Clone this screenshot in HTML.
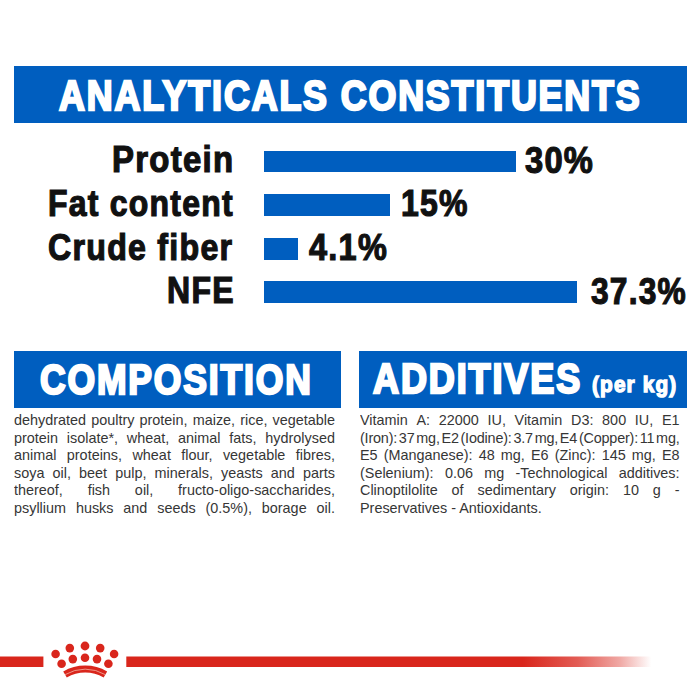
<!DOCTYPE html>
<html><head><meta charset="utf-8"><style>
html,body{margin:0;padding:0;background:#fff;width:700px;height:700px;overflow:hidden;position:relative}
.t{position:absolute;white-space:nowrap;font-family:"Liberation Sans",sans-serif;transform-origin:0 0}
.box{position:absolute;background:#005ebf}
.bar{position:absolute;background:#005ebf}
.body{position:absolute;font-family:"Liberation Sans",sans-serif;color:#363636;transform-origin:0 0}
.ln{white-space:nowrap}
.ln.j{display:flex;justify-content:space-between}
.ln span{white-space:nowrap}
</style></head><body>
<div class="box" style="left:13.5px;top:66px;width:673.5px;height:56.5px"></div>
<div class="box" style="left:13.5px;top:351px;width:327.7px;height:56.5px"></div>
<div class="box" style="left:358.8px;top:351px;width:327.8px;height:56.5px"></div>
<div class="bar" style="left:264px;top:150.5px;width:251.70000000000005px;height:21.900000000000006px"></div>
<div class="bar" style="left:264px;top:194.2px;width:125.60000000000002px;height:22.0px"></div>
<div class="bar" style="left:264px;top:237.8px;width:33.69999999999999px;height:22.0px"></div>
<div class="bar" style="left:264px;top:281.4px;width:312.6px;height:22.0px"></div>
<div class="t" id="title" style="left:58.66px;top:74.57px;font-size:41.6px;line-height:41.6px;font-weight:700;color:#fff;transform:scaleX(0.8599);letter-spacing:2.2px;-webkit-text-stroke:2.4px #fff">ANALYTICALS CONSTITUENTS</div>
<div class="t" id="l1" style="left:112.27px;top:141.87px;font-size:36.1px;line-height:36.1px;font-weight:700;color:#111;transform:scaleX(0.9129);letter-spacing:1.4px;-webkit-text-stroke:1.2px #111">Protein</div>
<div class="t" id="l2" style="left:47.96px;top:186.38px;font-size:36.1px;line-height:36.1px;font-weight:700;color:#111;transform:scaleX(0.8854);letter-spacing:1.4px;-webkit-text-stroke:1.2px #111">Fat content</div>
<div class="t" id="l3" style="left:48.13px;top:229.62px;font-size:36.1px;line-height:36.1px;font-weight:700;color:#111;transform:scaleX(0.8915);letter-spacing:1.4px;-webkit-text-stroke:1.2px #111">Crude fiber</div>
<div class="t" id="l4" style="left:166.88px;top:272.76px;font-size:36.1px;line-height:36.1px;font-weight:700;color:#111;transform:scaleX(0.888);letter-spacing:1.4px;-webkit-text-stroke:1.2px #111">NFE</div>
<div class="t" id="v1" style="left:524.72px;top:142.59px;font-size:36.3px;line-height:36.3px;font-weight:700;color:#111;transform:scaleX(0.9);letter-spacing:1.4px;-webkit-text-stroke:1.2px #111">30%</div>
<div class="t" id="v2" style="left:400.98px;top:186.11px;font-size:36.3px;line-height:36.3px;font-weight:700;color:#111;transform:scaleX(0.882);letter-spacing:1.4px;-webkit-text-stroke:1.2px #111">15%</div>
<div class="t" id="v3" style="left:308.92px;top:229.98px;font-size:36.3px;line-height:36.3px;font-weight:700;color:#111;transform:scaleX(0.8948);letter-spacing:1.4px;-webkit-text-stroke:1.2px #111">4.1%</div>
<div class="t" id="v4" style="left:591.36px;top:273.54px;font-size:36.3px;line-height:36.3px;font-weight:700;color:#111;transform:scaleX(0.8732);letter-spacing:1.4px;-webkit-text-stroke:1.2px #111">37.3%</div>
<div class="t" id="comp" style="left:39.94px;top:359.08px;font-size:41.6px;line-height:41.6px;font-weight:700;color:#fff;transform:scaleX(0.8521);letter-spacing:2.2px;-webkit-text-stroke:2.4px #fff">COMPOSITION</div>
<div class="t" id="add" style="left:372.94px;top:358.12px;font-size:41.6px;line-height:41.6px;font-weight:700;color:#fff;transform:scaleX(0.865);letter-spacing:2.2px;-webkit-text-stroke:2.4px #fff">ADDITIVES</div>
<div class="t" id="perkg" style="left:592.39px;top:374.59px;font-size:21.48px;line-height:21.48px;font-weight:700;color:#fff;transform:scaleX(0.9667);letter-spacing:1.2px;-webkit-text-stroke:1.3px #fff">(per kg)</div>
<div class="body" id="b1" style="left:14px;top:411px;width:334.38px;font-size:15px;line-height:17.5px;transform:scaleX(0.96)"><div class="ln j" style=""><span>dehydrated</span><span>poultry</span><span>protein,</span><span>maize,</span><span>rice,</span><span>vegetable</span></div><div class="ln j" style=""><span>protein</span><span>isolate*,</span><span>wheat,</span><span>animal</span><span>fats,</span><span>hydrolysed</span></div><div class="ln j" style=""><span>animal</span><span>proteins,</span><span>wheat</span><span>flour,</span><span>vegetable</span><span>fibres,</span></div><div class="ln j" style=""><span>soya</span><span>oil,</span><span>beet</span><span>pulp,</span><span>minerals,</span><span>yeasts</span><span>and</span><span>parts</span></div><div class="ln j" style=""><span>thereof,</span><span>fish</span><span>oil,</span><span>fructo-oligo-saccharides,</span></div><div class="ln j" style=""><span>psyllium</span><span>husks</span><span>and</span><span>seeds</span><span>(0.5%),</span><span>borage</span><span>oil.</span></div></div>
<div class="body" id="b2" style="left:359.8px;top:411px;width:332.92px;font-size:15px;line-height:17.5px;transform:scaleX(0.96)"><div class="ln j" style=""><span>Vitamin</span><span>A:</span><span>22000</span><span>IU,</span><span>Vitamin</span><span>D3:</span><span>800</span><span>IU,</span><span>E1</span></div><div class="ln j" style="letter-spacing:-0.2px"><span>(Iron):</span><span>37</span><span>mg,</span><span>E2</span><span>(Iodine):</span><span>3.7</span><span>mg,</span><span>E4</span><span>(Copper):</span><span>11</span><span>mg,</span></div><div class="ln j" style=""><span>E5</span><span>(Manganese):</span><span>48</span><span>mg,</span><span>E6</span><span>(Zinc):</span><span>145</span><span>mg,</span><span>E8</span></div><div class="ln j" style=""><span>(Selenium):</span><span>0.06</span><span>mg</span><span>-Technological</span><span>additives:</span></div><div class="ln j" style=""><span>Clinoptilolite</span><span>of</span><span>sedimentary</span><span>origin:</span><span>10</span><span>g</span><span>-</span></div><div class="ln" style="">Preservatives - Antioxidants.</div></div>
<svg style="position:absolute;left:0;top:0" width="700" height="700" viewBox="0 0 700 700"><defs><linearGradient id="fade" x1="0" x2="1" y1="0" y2="0"><stop offset="0" stop-color="#d9261c"/><stop offset="0.755" stop-color="#d9261c"/><stop offset="0.86" stop-color="#d9261c" stop-opacity="0.75"/><stop offset="0.94" stop-color="#d9261c" stop-opacity="0.4"/><stop offset="1" stop-color="#d9261c" stop-opacity="0"/></linearGradient></defs><rect x="0" y="656.5" width="43.4" height="10.5" fill="#d9261c"/><rect x="126.3" y="656.5" width="525" height="10.5" fill="url(#fade)"/><circle cx="55.6" cy="654" r="4.3" fill="#d9261c"/><circle cx="69.8" cy="648.1" r="4.3" fill="#d9261c"/><circle cx="85" cy="646" r="4.4" fill="#d9261c"/><circle cx="100.2" cy="648.1" r="4.3" fill="#d9261c"/><circle cx="114.1" cy="654" r="4.3" fill="#d9261c"/><circle cx="61.6" cy="663.7" r="4.3" fill="#d9261c"/><circle cx="72.8" cy="659.1" r="4.3" fill="#d9261c"/><circle cx="85" cy="657.7" r="4.3" fill="#d9261c"/><circle cx="97" cy="659.1" r="4.3" fill="#d9261c"/><circle cx="108.4" cy="663.7" r="4.3" fill="#d9261c"/><path d="M65.00 674.51 A39.8 39.8 0 0 1 105.40 674.51" stroke="#d9261c" stroke-width="7" fill="none"/><path d="M65.08 674.64 A39.65 39.65 0 0 1 105.32 674.64" stroke="#f2aa9c" stroke-width="0.85" fill="none"/></svg>
</body></html>
